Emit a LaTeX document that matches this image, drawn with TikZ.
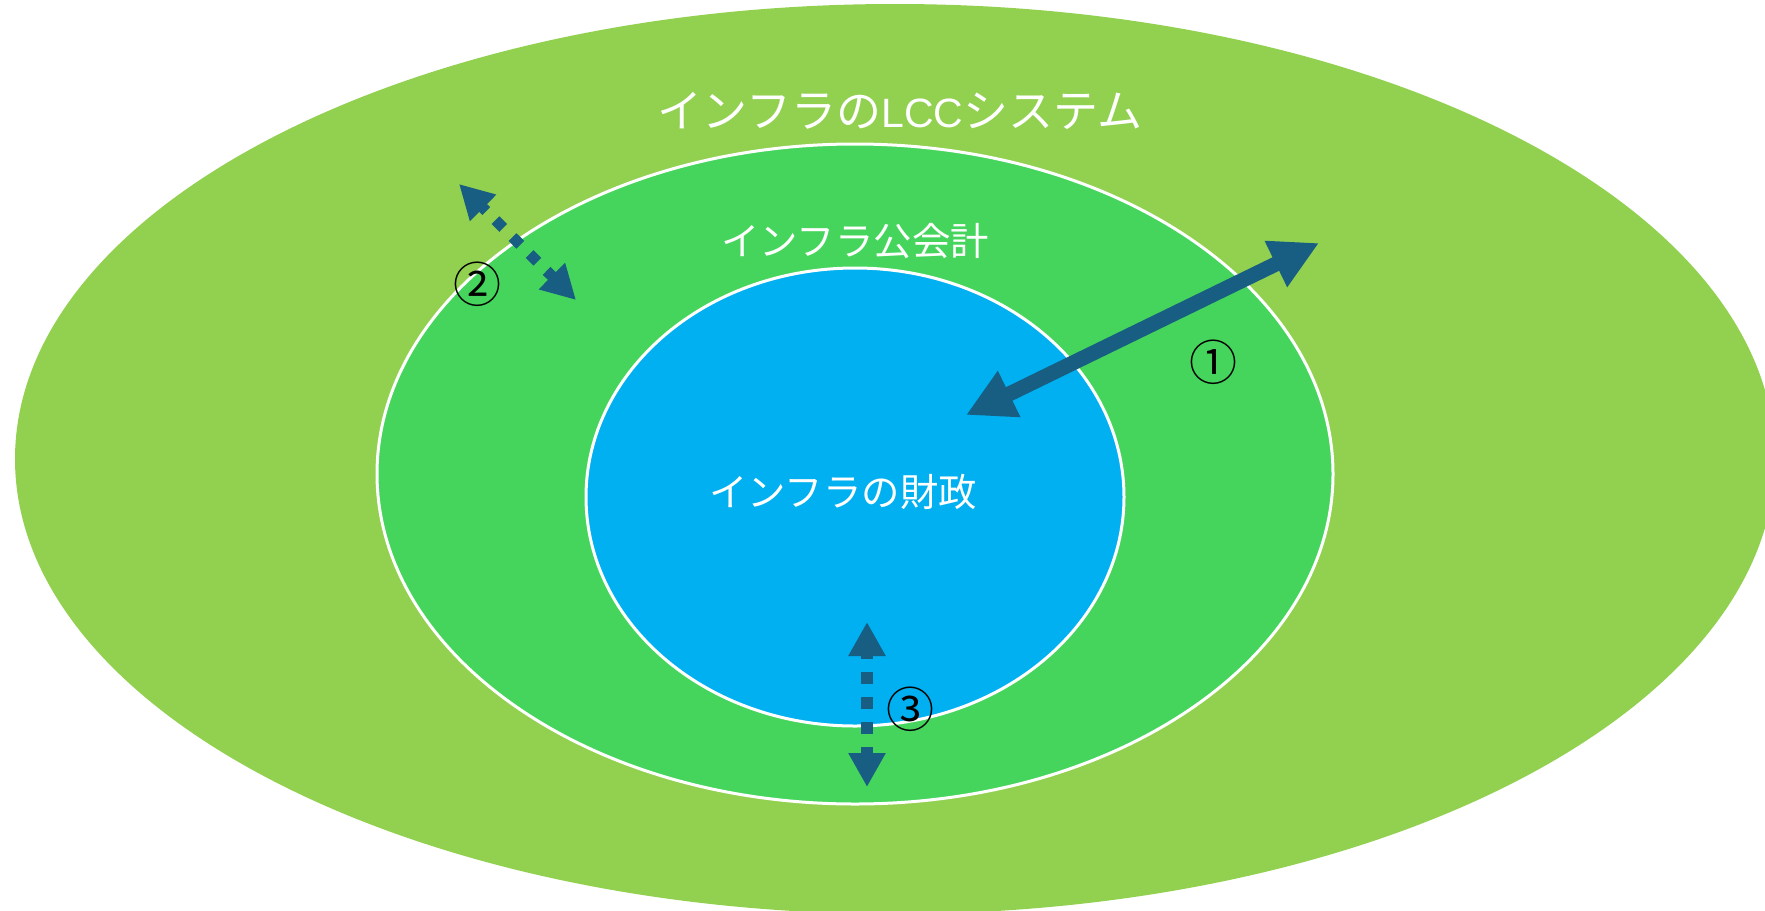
\documentclass[tikz,border=0pt]{standalone}
\usepackage{fontspec}
\usetikzlibrary{arrows.meta}
\newfontfamily\jp{Noto Sans CJK JP}
\newfontfamily\lat{Liberation Sans}
\definecolor{outerg}{RGB}{146,208,80}
\definecolor{midg}{RGB}{70,213,92}
\definecolor{innerb}{RGB}{0,176,240}
\definecolor{arrowc}{RGB}{23,94,130}
\tikzset{
  label/.style={text=white,font=\jp\fontsize{19.2}{23}\selectfont,inner sep=0pt},
  num/.style={text=black,font=\jp\fontsize{24}{28}\selectfont,inner sep=0pt},
  solidarrow/.style={arrowc,line width=7.5pt,{Triangle[length=24pt,width=24pt]}-{Triangle[length=24pt,width=24pt]}},
  dotarrow/.style={arrowc,line width=5.5pt,dash pattern=on 5.5pt off 6.5pt,{Triangle[length=17pt,width=17.5pt]}-{Triangle[length=17pt,width=17.5pt]}},
}
\begin{document}
\begin{tikzpicture}[x=0.5pt,y=-0.5pt]
\useasboundingbox (0,0) rectangle (1765,910);
\clip (0,0) rectangle (1765,910);
\fill[outerg] (895,459) ellipse [x radius=880, y radius=455];
\filldraw[fill=midg,draw=white,line width=1.5pt] (855,474) ellipse [x radius=478, y radius=330];
\filldraw[fill=innerb,draw=white,line width=1.5pt] (855,497) ellipse [x radius=269, y radius=229];
\node[label,font=\jp\fontsize{22.5}{26}\selectfont] (t1) at (900,111) {インフラの{\lat\fontsize{20.5}{24}\selectfont LCC}システム};
\node[label] (t2) at (855,241) {インフラ公会計};
\node[label] (t3) at (843,492) {インフラの財政};
\coordinate (a1) at (1319,243);
\coordinate (a2) at (966,415);
\coordinate (b1) at (459,184);
\coordinate (b2) at (576,300);
\coordinate (c1) at (867,622);
\coordinate (c2) at (867,787);
\draw[solidarrow] (a2) -- (a1);
\draw[dotarrow,dash phase=2.25pt] (b1) -- (b2);
\draw[dotarrow,line width=6pt,dash pattern=on 6pt off 6.5pt,dash phase=3.5pt] (c1) -- (c2);
\node[num] (n1) at (1213,362) {①};
\node[num] (n2) at (477,284) {②};
\node[num] (n3) at (910,709) {③};
\end{tikzpicture}
\end{document}
